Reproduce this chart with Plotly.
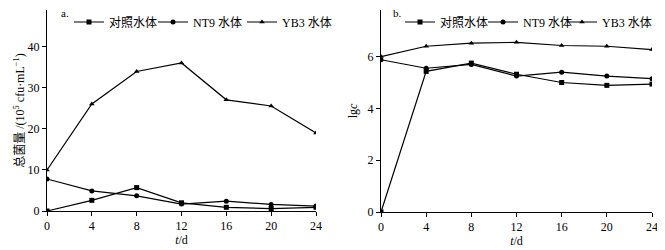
import plotly.graph_objects as go

days = [0, 4, 8, 12, 16, 20, 24]
# panel a: total bacteria (10^5 cfu/mL)
a_control = [0.0, 2.6, 5.7, 2.0, 0.9, 0.6, 0.9]
a_nt9 = [7.8, 4.9, 3.7, 1.7, 2.4, 1.6, 1.2]
a_yb3 = [10.0, 26.1, 34.0, 36.1, 27.1, 25.6, 19.0]
# panel b: lg c
b_control = [0.0, 5.43, 5.75, 5.32, 5.0, 4.89, 4.94]
b_nt9 = [5.88, 5.55, 5.7, 5.25, 5.4, 5.25, 5.15]
b_yb3 = [6.0, 6.4, 6.52, 6.55, 6.43, 6.4, 6.27]

names = ["对照水体", "NT9 水体", "YB3 水体"]
symbols = ["square", "circle", "triangle-up"]
FONT = "Liberation Serif, Times New Roman, Noto Sans CJK SC, serif"

# page has an 8px body margin: figure occupies page px 8..665 x 8..250
W, H, OFF = 657, 242, 8
def fx(p):
    return (p - OFF) / W
def fy(p):
    return 1 - (p - OFF) / H

# one legend per entry so each key sits where the reference puts it
legend_left_px = [[69, 153, 242], [400, 483, 562]]

fig = go.Figure()
legend_layout = {}
k = 0
for panel, (series, xa, ya) in enumerate([([a_control, a_nt9, a_yb3], "x", "y"),
                                           ([b_control, b_nt9, b_yb3], "x2", "y2")]):
    for j, (ys, nm, sym) in enumerate(zip(series, names, symbols)):
        k += 1
        lname = "legend" if k == 1 else f"legend{k}"
        fig.add_trace(go.Scatter(x=days, y=ys, mode="lines+markers", name=nm,
                                 line=dict(color="black", width=1.2),
                                 marker=dict(symbol=sym, size=5, color="black"),
                                 xaxis=xa, yaxis=ya, legend=lname, showlegend=True))
        legend_layout[lname] = dict(orientation="h", xanchor="left", yanchor="middle",
                                    x=fx(legend_left_px[panel][j]), y=fy(22),
                                    bgcolor="rgba(0,0,0,0)", itemwidth=30,
                                    font=dict(size=12))

axis_common = dict(showline=True, linecolor="black", linewidth=1, ticks="outside",
                   ticklen=4, tickcolor="black", showgrid=False, zeroline=False,
                   automargin=False,
                   tickfont=dict(size=12, color="black", family=FONT))

fig.update_layout(
    width=W, height=H, showlegend=True,
    margin=dict(l=0, r=0, t=0, b=0, autoexpand=False),
    paper_bgcolor="white", plot_bgcolor="white",
    font=dict(family=FONT, color="black", size=12),
    xaxis=dict(domain=[fx(47), fx(316)], range=[0, 24], dtick=4, anchor="y",
               title=dict(text="<i>t</i>/d", standoff=3, font=dict(size=12)), **axis_common),
    yaxis=dict(domain=[fy(211), fy(10)], range=[0, 49], tickvals=[0, 10, 20, 30, 40], anchor="x",
               title=dict(text="总菌量 /(10<sup>5</sup> cfu·mL<sup>−1</sup>)", standoff=0, font=dict(size=12)),
               **axis_common),
    xaxis2=dict(domain=[fx(381), fx(652)], range=[0, 24], dtick=4, anchor="y2",
                title=dict(text="<i>t</i>/d", standoff=3, font=dict(size=12)), **axis_common),
    yaxis2=dict(domain=[fy(212), fy(10)], range=[0, 7.8], tickvals=[0, 2, 4, 6], anchor="x2",
                title=dict(text="lg<i>c</i>", standoff=7, font=dict(size=12)), **axis_common),
    annotations=[
        dict(text="a.", x=fx(59), y=fy(13), xref="paper", yref="paper",
             xanchor="left", yanchor="middle", showarrow=False, font=dict(size=11)),
        dict(text="b.", x=fx(391), y=fy(13), xref="paper", yref="paper",
             xanchor="left", yanchor="middle", showarrow=False, font=dict(size=11)),
    ],
    **legend_layout,
)

fig.write_html("out.html")
